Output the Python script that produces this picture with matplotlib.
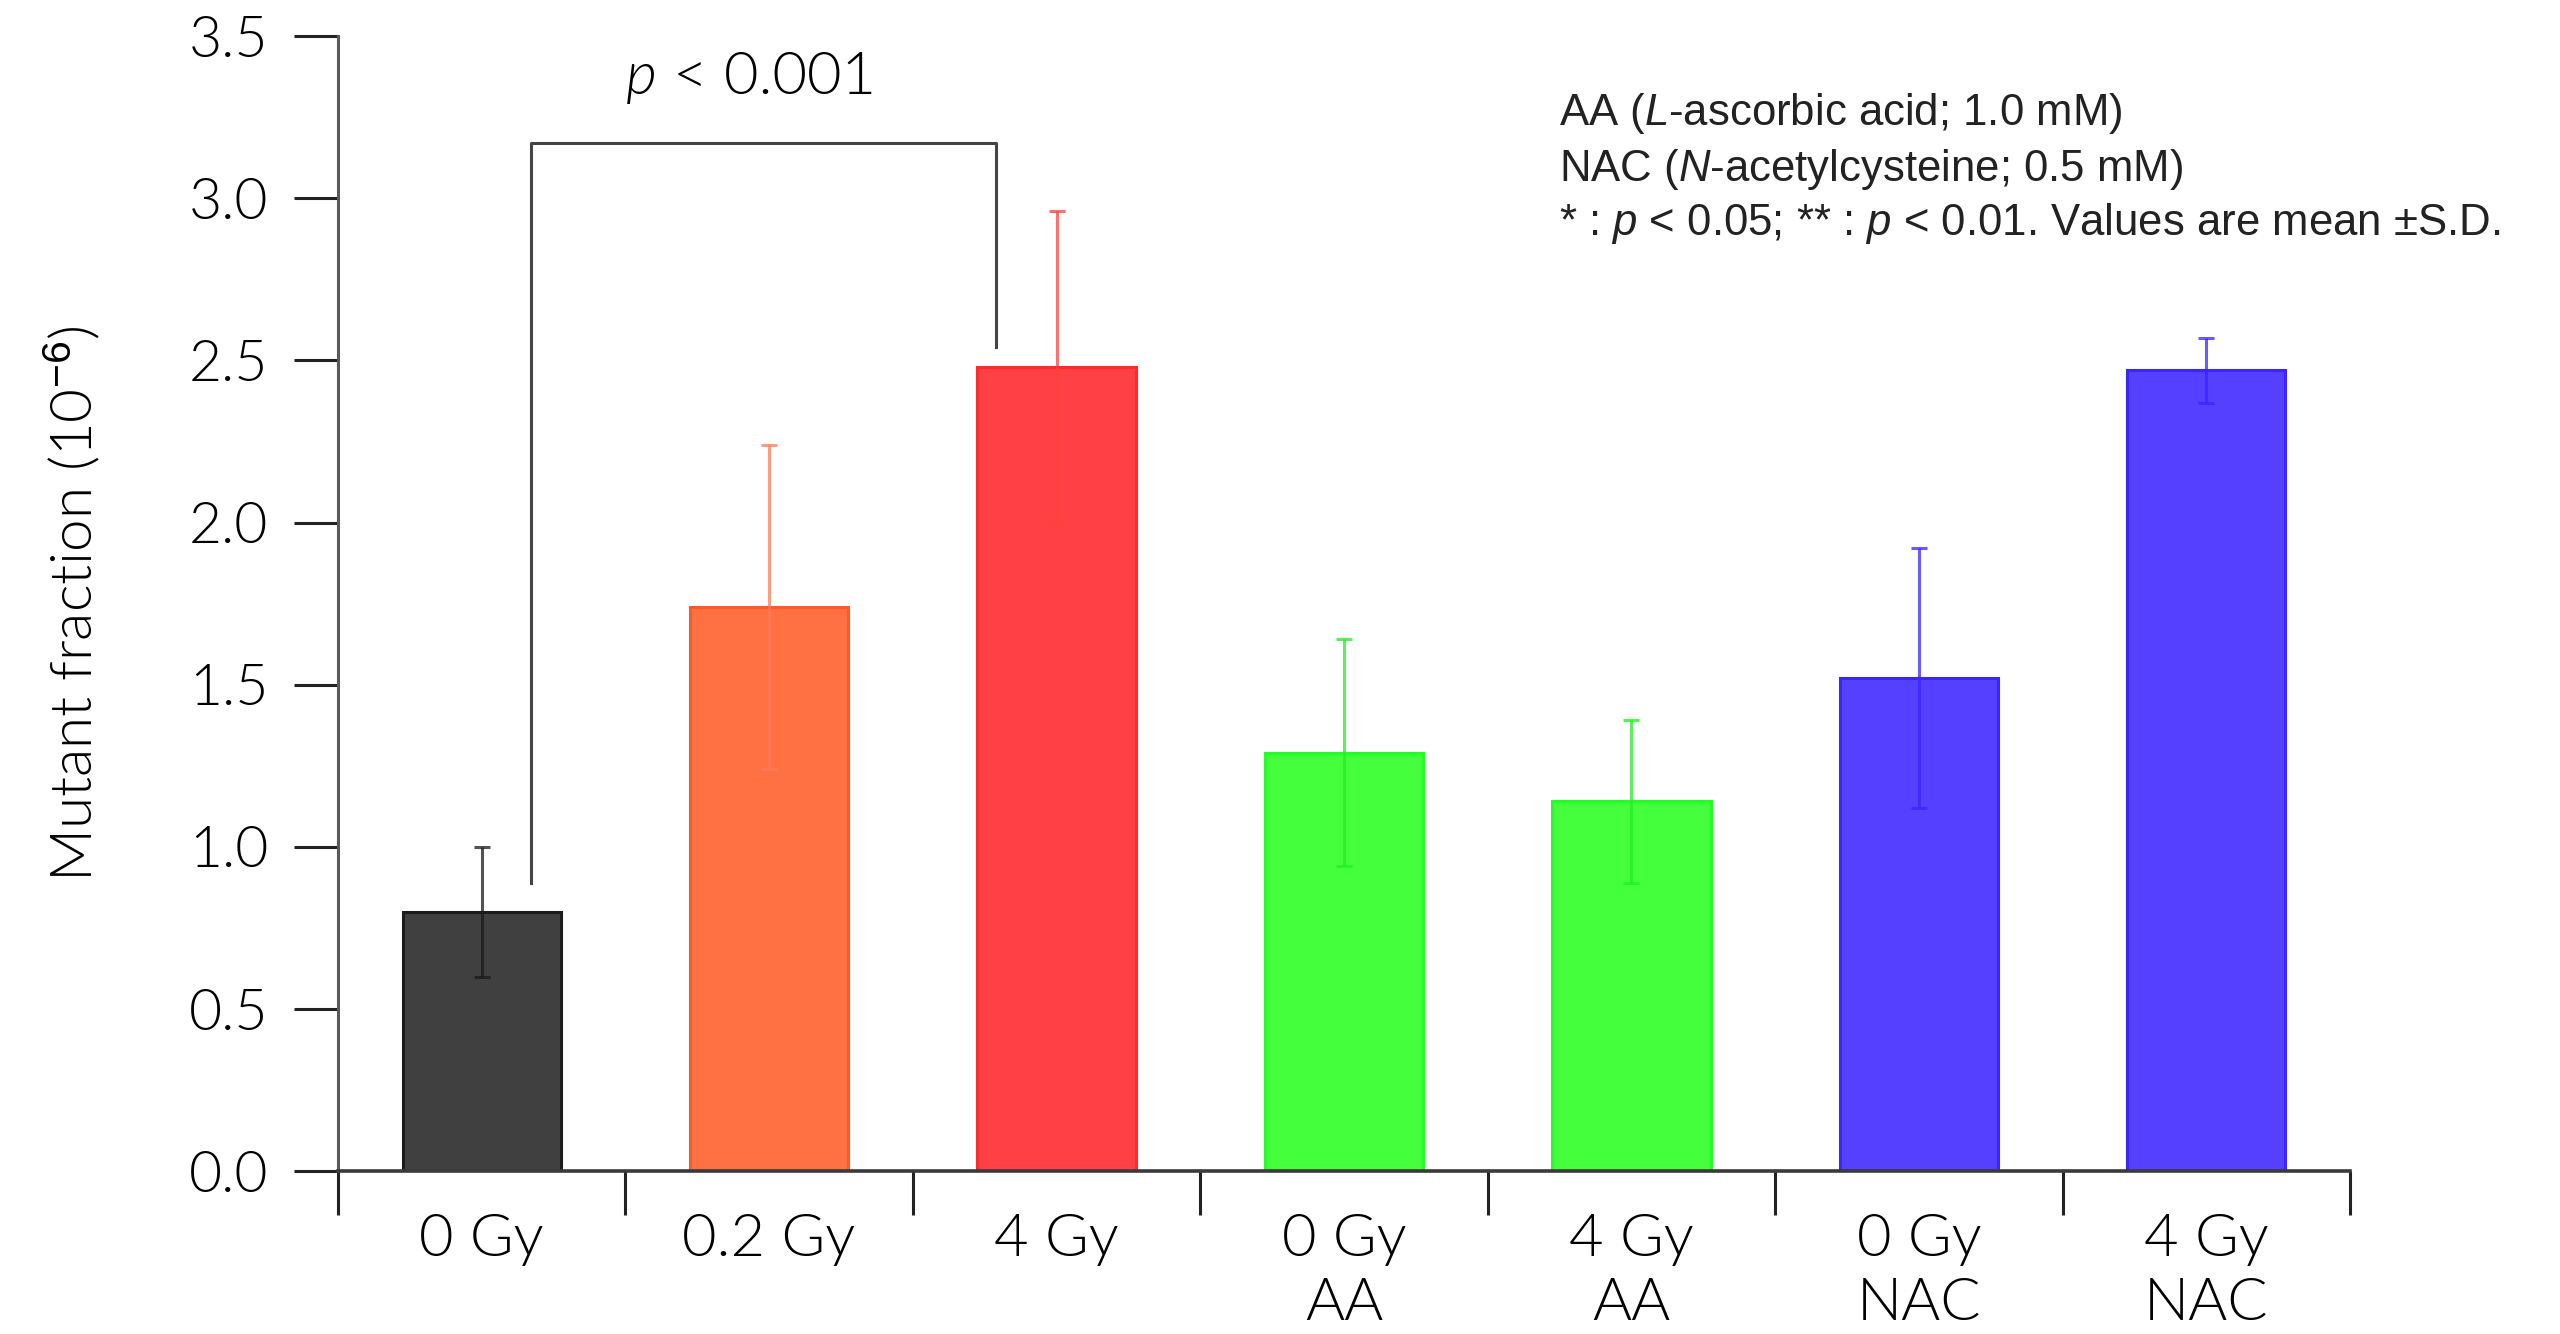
import matplotlib
matplotlib.use("Agg")
import matplotlib.pyplot as plt
import numpy as np

# data
groups = ["0 Gy", "0.2 Gy", "4 Gy", "0 Gy\nAA", "4 Gy\nAA", "0 Gy\nNAC", "4 Gy\nNAC"]
means = [0.80, 1.74, 2.48, 1.29, 1.14, 1.52, 2.47]
sds = [0.20, 0.50, 0.48, 0.35, 0.25, 0.40, 0.10]
yticks = [0.0, 0.5, 1.0, 1.5, 2.0, 2.5, 3.0, 3.5]

face_cols = ["#404040", "#ff7043", "#ff4044", "#44ff3c", "#44ff3c", "#5540ff", "#5540ff"]
edge_cols = ["#1c1c1c", "#ff5a24", "#ff2a2a", "#22ff22", "#22ff22", "#3a24ff", "#3a24ff"]
err_cols = ["#1a1a1a", "#ff7a55", "#ff4040", "#22f022", "#22f022", "#3a24ff", "#3a24ff"]

TICK_FONT = "Lato"
TICK_WEIGHT = 300
NOTE_FONT = "Liberation Sans"

plt.rcParams["mathtext.fontset"] = "custom"
plt.rcParams["mathtext.rm"] = "Liberation Sans"
plt.rcParams["mathtext.it"] = "Liberation Sans:italic"

fig = plt.figure(figsize=(25.6, 13.34), dpi=100)
ax = fig.add_axes([0.132, 0.122, 0.786, 0.851])

x = np.arange(len(groups))
ax.bar(x, means, width=0.55, color=face_cols, edgecolor=edge_cols, linewidth=2.2, zorder=2)
for xi, m, s, c in zip(x, means, sds, err_cols):
    ax.errorbar(xi, m, yerr=s, fmt="none", ecolor=c, elinewidth=2.2,
                capsize=6, capthick=2.2, alpha=0.75, zorder=3)

ax.set_xlim(-0.5, len(groups) - 0.5)
ax.set_ylim(0, 3.5)

for side in ("top", "right"):
    ax.spines[side].set_visible(False)
ax.spines["left"].set_color("#5a5a5a")
ax.spines["bottom"].set_color("#3a3a3a")
ax.spines["left"].set_linewidth(2.2)
ax.spines["bottom"].set_linewidth(2.6)

ax.set_yticks(yticks)
ax.set_yticklabels([f"{v:.1f}" for v in yticks])
ax.tick_params(axis="y", direction="out", length=32, width=2.2, color="#222222",
               pad=18, labelsize=41)

# category boundaries as major ticks, labels on minor ticks at centres
ax.set_xticks(np.arange(-0.5, len(groups)), labels=[""] * (len(groups) + 1))
ax.set_xticks(x, labels=groups, minor=True)
ax.tick_params(axis="x", which="major", direction="out", length=32, width=2.2, color="#222222")
ax.tick_params(axis="x", which="minor", length=0, pad=30, labelsize=43)

for lab in ax.get_yticklabels() + ax.get_xticklabels(minor=True):
    lab.set_family(TICK_FONT)
    lab.set_fontweight(TICK_WEIGHT)
    lab.set_color("black")
    lab.set_linespacing(1.25)

ax.set_ylabel("Mutant fraction (10$^{-6}$)", fontsize=42, family=TICK_FONT,
              fontweight=TICK_WEIGHT)
ax.yaxis.label.set_va("center")
ax.yaxis.set_label_coords(-0.132, 0.5)

# significance bracket
brk_x = [0.17, 0.17, 1.79, 1.79]
brk_y = [0.89, 3.17, 3.17, 2.54]
ax.plot(brk_x, brk_y, color="#444444", lw=2.2, clip_on=False, zorder=4)
ax.text(0.61, 3.32, "p", ha="right", va="baseline", fontsize=43, family=TICK_FONT,
        fontweight=TICK_WEIGHT, fontstyle="italic")
ax.text(0.665, 3.32, "< 0.001", ha="left", va="baseline", fontsize=43,
        family=TICK_FONT, fontweight=TICK_WEIGHT)

# notes
notes = [
    "AA ($L$-ascorbic acid; 1.0 mM)",
    "NAC ($N$-acetylcysteine; 0.5 mM)",
    "* : $p$ < 0.05; ** : $p$ < 0.01. Values are mean \u00b1S.D.",
]
for i, t in enumerate(notes):
    fig.text(1559 / 2560, 1 - (114 + 55 * i) / 1334, t, ha="left", va="center",
             fontsize=31.5, family=NOTE_FONT, color="#222222")

fig.savefig("out.png", dpi=100, facecolor="white")
